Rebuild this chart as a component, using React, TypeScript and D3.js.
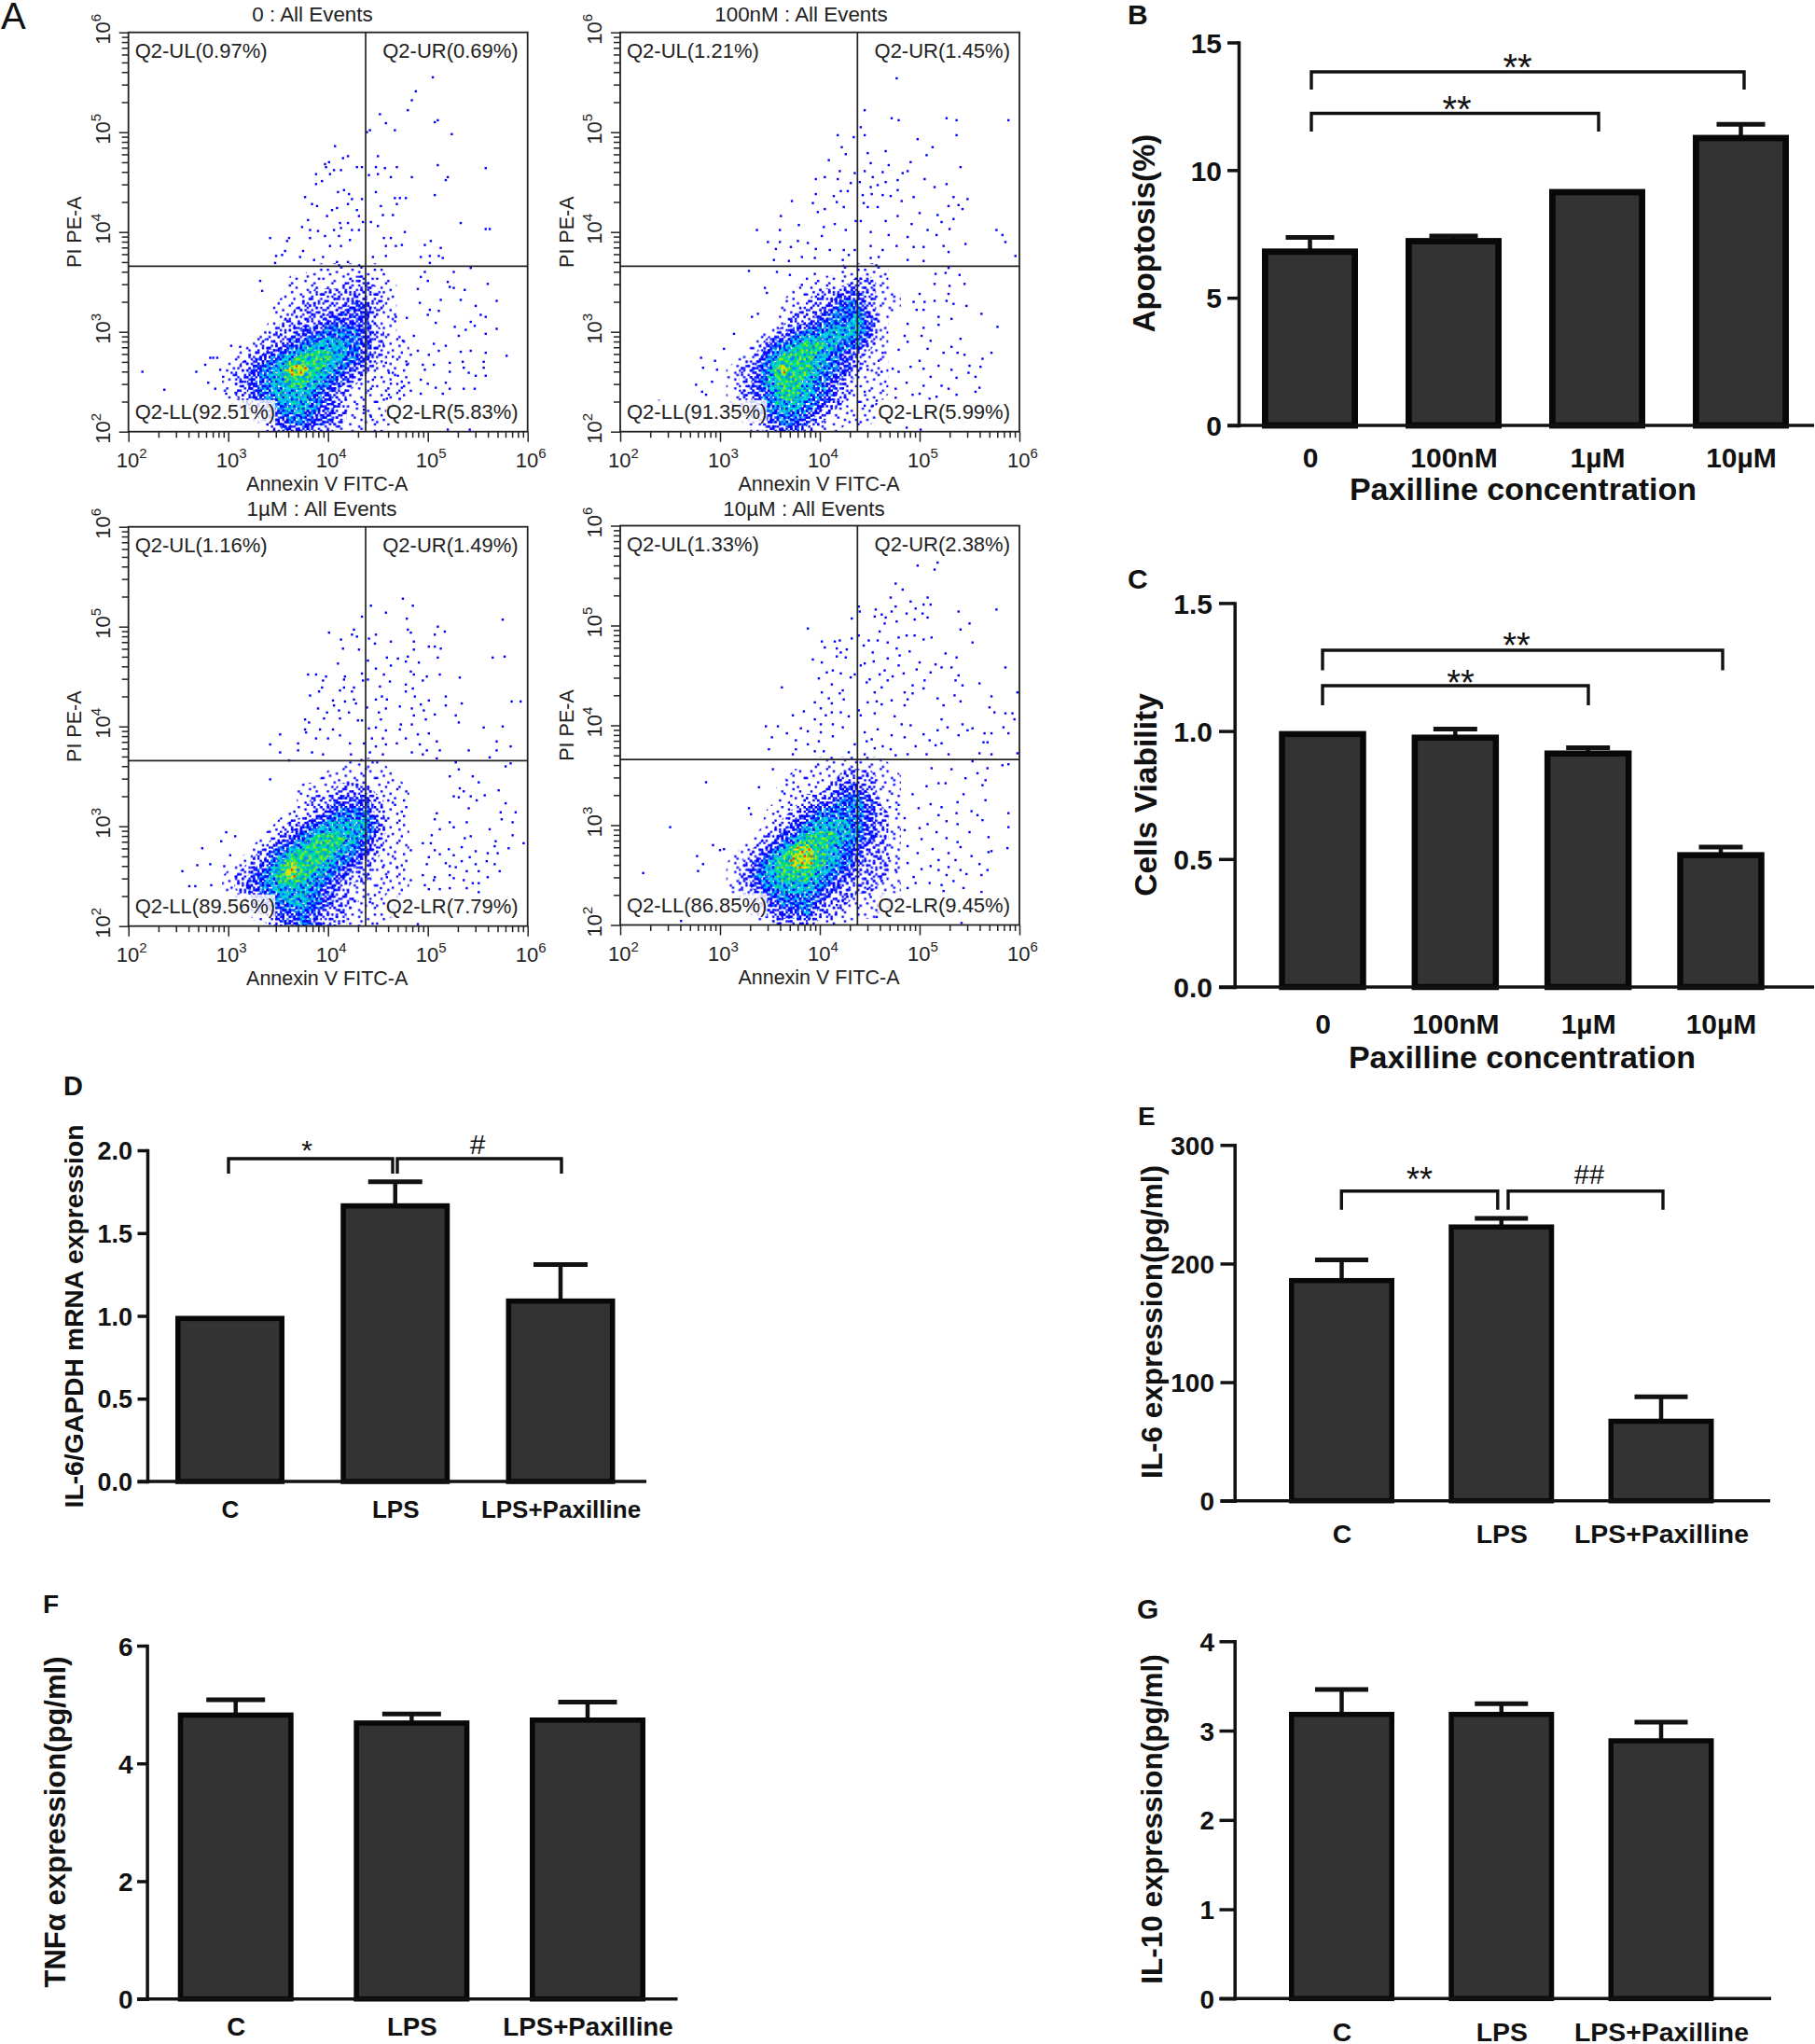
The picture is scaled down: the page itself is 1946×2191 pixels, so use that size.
import React, { useEffect, useRef } from "react";
import * as d3 from "d3";

// ---- bar chart values ----
const doseCategories = ["0", "100nM", "1µM", "10µM"];
const groupCategories = ["C", "LPS", "LPS+Paxilline"];

const apoptosisMeans = [6.93, 7.34, 9.26, 11.38];
const apoptosisTops = [7.36, 7.42, 9.26, 11.79];
const viabilityMeans = [1.0, 0.986, 0.924, 0.527];
const viabilityTops = [1.0, 1.008, 0.935, 0.547];
const il6MrnaMeans = [1.0, 1.68, 1.105];
const il6MrnaTops = [1.0, 1.81, 1.31];
const il6Means = [187.8, 233, 69.2];
const il6Tops = [203, 238, 87.6];
const tnfMeans = [4.865, 4.73, 4.78];
const tnfTops = [5.08, 4.84, 5.04];
const il10Means = [3.21, 3.21, 2.914];
const il10Tops = [3.46, 3.3, 3.095];

// ---- flow cytometry: quadrant labels ----
const quadrants0 = ["Q2-UL(0.97%)", "Q2-UR(0.69%)", "Q2-LL(92.51%)", "Q2-LR(5.83%)"];
const quadrants100nM = ["Q2-UL(1.21%)", "Q2-UR(1.45%)", "Q2-LL(91.35%)", "Q2-LR(5.99%)"];
const quadrants1uM = ["Q2-UL(1.16%)", "Q2-UR(1.49%)", "Q2-LL(89.56%)", "Q2-LR(7.79%)"];
const quadrants10uM = ["Q2-UL(1.33%)", "Q2-UR(2.38%)", "Q2-LL(86.85%)", "Q2-LR(9.45%)"];

// density of the main cell cloud, estimated by eye, 0 (none) to 7 (hottest).
// rows: log10(PI) 3.625 down to 2 in steps of 0.125, columns: log10(Annexin) 3 to 4.75
const density0 = [
  "000000011111100",
  "000001111122110",
  "000001122222210",
  "000011222233210",
  "000012223333110",
  "000122334443210",
  "001223455543211",
  "012345666543211",
  "123457765432111",
  "123456654321111",
  "123455543211111",
  "012345543211110",
  "001234433211110",
  "000123322111100",
];
const density100nM = [
  "000000000011110",
  "000000011112210",
  "000000112233211",
  "000001122344211",
  "000001223445310",
  "000012344555310",
  "000134566544210",
  "001246665432110",
  "012357665432110",
  "012356654321110",
  "012346654321110",
  "012345543211100",
  "001234432111100",
  "000123321100000",
];
const density1uM = [
  "000000000011100",
  "000000001111110",
  "000000111222111",
  "000000122333211",
  "000001123444211",
  "000012345555311",
  "000123466654211",
  "001245666543211",
  "012357665432111",
  "123467654322111",
  "123455543211111",
  "012345543221110",
  "001233432211110",
  "000023432211100",
];
const density10uM = [
  "000000001111110",
  "000000111122211",
  "000001111233211",
  "000001122344311",
  "000011234444321",
  "000012345554321",
  "000123466654321",
  "001235776543221",
  "012356776543221",
  "012456665432221",
  "012345554322211",
  "001234443221111",
  "000223342211110",
  "000012221110000",
];

// single events, [log10(Annexin V), log10(PI)]
const events0 = [
  [5.05,5.55],[4.88,5.41],[4.84,5.32],[4.52,5.18],[4.8,5.22],[4.58,5.09],[5.07,5.1],[5.1,5.12],[4.67,5.02],[4.42,5.02],
  [4.39,5.0],[5.24,4.98],[4.07,4.86],[4.5,4.76],[4.15,4.74],[4.2,4.76],[4.01,4.7],[3.97,4.68],[3.98,4.65],[4.29,4.65],
  [4.34,4.65],[4.48,4.65],[4.57,4.64],[4.69,4.65],[5.1,4.67],[5.58,4.64],[4.06,4.62],[4.13,4.62],[3.88,4.58],[4.02,4.58],
  [4.41,4.57],[4.5,4.58],[4.63,4.55],[4.84,4.55],[5.2,4.55],[5.18,4.52],[3.94,4.51],[3.88,4.48],[4.16,4.42],[4.1,4.4],
  [4.21,4.38],[4.48,4.4],[5.07,4.37],[3.77,4.35],[4.67,4.34],[4.72,4.34],[4.78,4.34],[4.24,4.33],[4.34,4.33],[3.84,4.28],
  [3.89,4.26],[4.2,4.28],[4.53,4.26],[4.69,4.28],[4.04,4.22],[4.29,4.22],[4.09,4.24],[4.55,4.17],[4.65,4.17],[3.99,4.16],
  [4.31,4.16],[3.8,4.12],[4.12,4.09],[4.2,4.09],[4.35,4.1],[4.43,4.1],[5.33,4.09],[4.5,4.06],[5.58,4.03],[5.62,4.03],
  [3.74,4.05],[4.13,4.04],[3.82,4.02],[3.9,4.01],[4.06,4.02],[4.24,4.02],[4.31,4.02],[4.77,4.0],[3.42,3.94],[3.61,3.94],
  [3.59,3.91],[3.82,3.94],[3.97,3.96],[4.11,3.96],[4.22,3.92],[4.56,3.94],[4.63,3.94],[5.03,3.91],[4.97,3.87],[4.74,3.87],
  [5.13,3.84],[3.57,3.81],[3.75,3.81],[4.02,3.86],[4.13,3.86],[4.58,3.86],[4.68,3.86],[3.54,3.77],[3.48,3.76],[3.72,3.75],
  [3.86,3.72],[3.95,3.75],[4.09,3.7],[4.2,3.7],[4.45,3.75],[4.58,3.76],[4.93,3.75],[5.02,3.76],[5.11,3.76],[5.15,3.74],
  [3.47,3.69],[5.02,3.69],[5.43,3.64],[5.26,3.6],[4.97,3.6],[4.93,3.55],[5.2,3.5],[5.6,3.48],[5.0,3.51],[3.32,3.51],
  [3.34,3.41],[5.22,3.45],[5.37,3.42],[5.26,3.44],[4.9,3.43],[5.13,3.32],[5.33,3.32],[5.69,3.31],[4.92,3.29],[5.48,3.26],
  [5.02,3.22],[5.11,3.21],[5.53,3.17],[5.58,3.15],[5.0,3.17],[4.68,3.15],[4.79,3.14],[5.43,3.1],[5.08,3.09],[5.27,3.05],
  [5.69,3.03],[5.38,3.02],[5.47,3.06],[5.58,2.98],[5.31,2.96],[4.86,2.96],[4.75,2.91],[5.06,2.88],[5.18,2.86],[4.9,2.81],
  [5.43,2.81],[5.33,2.8],[5.11,2.81],[5.58,2.79],[5.79,2.76],[5.01,2.77],[4.83,2.77],[4.65,2.75],[4.58,2.69],[5.56,2.7],
  [4.95,2.67],[5.35,2.7],[5.22,2.69],[5.06,2.67],[4.79,2.67],[4.97,2.62],[5.56,2.64],[5.36,2.64],[4.61,2.59],[5.22,2.6],
  [4.7,2.56],[5.41,2.59],[5.48,2.56],[5.58,2.56],[4.93,2.52],[4.81,2.49],[4.45,2.52],[4.63,2.48],[5.0,2.48],[5.18,2.49],
  [4.74,2.44],[5.08,2.44],[5.36,2.43],[5.22,2.43],[5.47,2.43],[4.43,2.43],[4.61,2.37],[4.83,2.41],[4.93,2.38],[5.15,2.38],
  [4.72,2.33],[4.59,2.33],[4.36,2.22],[4.43,2.15],[5.2,2.02],[5.42,2.02],[2.14,2.6],[2.36,2.42],[2.68,2.6],[2.77,2.67],
  [2.82,2.74],[2.85,2.74],[2.89,2.74],[2.8,2.49],[3.03,2.86],[3.12,2.85],[2.87,2.43],[2.95,2.55],[2.98,2.38],[2.92,2.62],
];
const events100nM = [
  [4.77,5.54],[4.45,5.22],[4.72,5.14],[4.79,5.12],[5.27,5.14],[5.37,5.12],[5.89,5.12],[4.41,5.05],[4.18,4.97],[4.34,4.95],
  [4.45,4.97],[4.98,4.93],[5.37,4.97],[4.22,4.85],[4.26,4.78],[5.13,4.85],[5.07,4.77],[4.48,4.79],[4.66,4.81],[4.09,4.72],
  [4.51,4.69],[4.69,4.67],[4.91,4.7],[5.41,4.65],[4.45,4.61],[4.2,4.61],[4.63,4.6],[4.83,4.59],[4.88,4.61],[4.35,4.59],
  [4.05,4.55],[3.96,4.53],[4.18,4.53],[4.31,4.49],[4.4,4.5],[4.53,4.55],[4.66,4.5],[4.78,4.52],[5.05,4.53],[5.27,4.48],
  [4.21,4.41],[4.28,4.41],[4.51,4.45],[4.58,4.47],[4.78,4.42],[5.15,4.45],[3.96,4.38],[4.14,4.36],[4.43,4.37],[4.52,4.38],
  [4.63,4.37],[4.71,4.36],[4.82,4.31],[4.94,4.35],[5.34,4.35],[5.48,4.33],[3.72,4.31],[3.93,4.29],[4.17,4.3],[4.44,4.29],
  [5.29,4.26],[5.39,4.27],[5.43,4.23],[4.24,4.25],[3.98,4.2],[4.05,4.23],[4.48,4.25],[4.58,4.25],[4.78,4.16],[5.0,4.19],
  [5.18,4.17],[3.61,4.16],[4.41,4.11],[4.66,4.11],[4.92,4.08],[5.22,4.1],[5.34,4.13],[3.37,4.02],[3.6,4.02],[3.79,4.07],
  [4.04,4.05],[4.15,4.08],[4.26,4.02],[4.36,4.11],[4.51,4.0],[5.08,4.02],[5.77,4.02],[5.83,3.97],[5.3,4.03],[5.17,3.97],
  [4.02,3.96],[3.48,3.9],[3.6,3.9],[3.78,3.91],[3.88,3.89],[4.88,3.95],[4.69,3.97],[5.24,3.86],[5.46,3.88],[5.86,3.9],
  [3.56,3.83],[3.71,3.85],[3.96,3.83],[4.1,3.82],[4.24,3.82],[4.35,3.82],[4.51,3.86],[4.63,3.82],[4.77,3.86],[4.94,3.85],
  [5.04,3.85],[5.29,3.8],[3.54,3.72],[3.69,3.71],[3.82,3.75],[3.95,3.74],[4.23,3.72],[4.29,3.77],[4.51,3.74],[4.59,3.75],
  [4.88,3.72],[5.04,3.71],[5.96,3.76],[5.29,3.64],[5.4,3.57],[5.16,3.58],[5.26,3.59],[5.45,3.48],[5.3,3.46],[5.15,3.48],
  [5.0,3.38],[5.29,3.38],[5.05,3.3],[5.15,3.31],[4.94,3.3],[5.27,3.31],[4.97,3.22],[5.47,3.26],[5.34,3.28],[5.04,3.22],
  [5.19,3.15],[5.62,3.18],[5.32,3.13],[5.78,3.05],[4.88,3.08],[5.04,3.04],[5.19,3.07],[4.85,2.96],[4.88,2.9],[5.11,2.91],
  [5.02,2.96],[5.41,2.93],[5.32,2.85],[5.08,2.83],[5.38,2.79],[5.24,2.79],[5.72,2.79],[5.45,2.77],[4.63,2.79],[4.79,2.82],
  [5.63,2.73],[4.59,2.71],[5.0,2.71],[5.19,2.66],[5.5,2.66],[4.73,2.63],[4.91,2.65],[5.04,2.63],[5.32,2.62],[5.61,2.65],
  [4.48,2.62],[4.62,2.6],[4.79,2.6],[5.11,2.55],[5.37,2.54],[5.56,2.55],[5.49,2.59],[4.87,2.49],[5.04,2.46],[4.76,2.43],
  [5.22,2.46],[5.29,2.43],[5.6,2.44],[4.45,2.4],[4.93,2.37],[5.0,2.38],[5.17,2.35],[5.37,2.37],[5.56,2.4],[4.76,2.34],
  [5.1,2.33],[4.57,2.31],[4.45,2.26],[4.53,2.26],[4.87,2.04],[5.01,2.02],[2.81,2.74],[2.83,2.64],[2.76,2.47],[2.95,2.71],
  [3.04,2.83],[3.14,2.98],[2.86,2.37],[2.39,2.31],[2.82,2.4],[3.29,3.61],[3.45,3.44],[3.57,3.6],[3.47,3.39],[3.32,3.15],
  [3.38,3.18],[3.7,3.57],[3.82,3.47],[3.95,3.58],[2.97,2.62],[2.92,2.5],
];
const events1uM = [
  [4.75,5.28],[4.85,5.21],[4.43,5.21],[4.58,5.14],[4.34,5.1],[4.79,5.08],[5.75,5.07],[5.1,5.0],[4.8,4.97],[4.83,4.94],
  [5.17,4.95],[4.01,4.94],[4.26,4.97],[4.24,4.92],[4.29,4.9],[4.48,4.92],[5.07,4.92],[4.13,4.87],[4.41,4.88],[4.47,4.83],
  [4.63,4.85],[4.86,4.85],[5.01,4.8],[5.07,4.8],[5.13,4.78],[4.15,4.78],[4.31,4.77],[4.86,4.77],[4.59,4.69],[4.7,4.68],
  [4.8,4.7],[5.1,4.69],[5.65,4.69],[5.77,4.7],[4.4,4.66],[4.78,4.65],[4.91,4.64],[4.1,4.63],[4.63,4.61],[4.48,4.58],
  [4.83,4.55],[3.8,4.52],[3.88,4.52],[4.34,4.53],[4.56,4.52],[4.86,4.52],[4.99,4.5],[5.12,4.52],[3.98,4.5],[4.17,4.5],
  [5.32,4.49],[4.4,4.47],[3.95,4.46],[4.16,4.47],[4.35,4.46],[4.62,4.45],[4.95,4.46],[4.78,4.42],[4.52,4.4],[4.16,4.39],
  [4.26,4.39],[3.94,4.39],[4.12,4.36],[4.24,4.35],[3.91,4.35],[4.78,4.35],[4.85,4.38],[3.82,4.31],[4.54,4.3],[4.87,4.3],
  [5.18,4.3],[4.05,4.26],[4.17,4.25],[4.26,4.27],[4.48,4.27],[4.59,4.27],[5.01,4.26],[5.84,4.25],[5.93,4.25],[5.34,4.23],
  [5.18,4.21],[4.06,4.21],[4.28,4.23],[4.39,4.19],[4.58,4.18],[4.72,4.2],[4.84,4.18],[4.93,4.22],[3.9,4.18],[4.11,4.16],
  [3.99,4.14],[4.21,4.14],[4.96,4.16],[4.51,4.14],[5.07,4.12],[3.96,4.08],[4.12,4.08],[4.3,4.06],[4.53,4.07],[4.86,4.11],
  [5.28,4.11],[3.77,4.07],[3.81,4.04],[5.31,4.04],[4.34,4.06],[4.98,4.07],[4.73,4.02],[4.84,4.02],[5.56,3.99],[5.75,4.0],
  [4.41,3.98],[4.48,3.99],[3.77,3.97],[3.92,3.97],[4.05,3.97],[4.58,3.96],[4.72,3.97],[4.9,3.92],[5.01,3.93],[3.52,3.92],
  [3.78,3.94],[4.12,3.91],[3.88,3.88],[4.0,3.88],[4.44,3.88],[4.55,3.88],[4.69,3.83],[4.78,3.88],[5.09,3.85],[5.69,3.85],
  [3.42,3.82],[3.7,3.83],[4.22,3.83],[4.36,3.83],[4.48,3.8],[4.58,3.82],[4.92,3.82],[5.83,3.8],[3.7,3.76],[4.99,3.76],
  [5.12,3.76],[5.41,3.76],[5.69,3.76],[3.52,3.74],[3.84,3.74],[3.95,3.72],[4.23,3.72],[4.42,3.74],[4.55,3.72],[4.84,3.74],
  [4.95,3.72],[5.62,3.69],[3.61,3.66],[5.09,3.68],[5.83,3.63],[5.78,3.6],[5.28,3.64],[5.31,3.57],[5.22,3.5],[5.45,3.5],
  [3.42,3.47],[5.51,3.44],[5.32,3.38],[5.71,3.36],[5.36,3.35],[5.57,3.31],[5.26,3.3],[5.31,3.29],[5.43,3.3],[5.49,3.26],
  [5.78,3.23],[5.41,3.18],[5.73,3.14],[5.88,3.14],[5.09,3.13],[5.74,3.07],[5.07,3.07],[5.85,3.04],[5.39,3.04],[5.22,3.04],
  [5.62,2.97],[5.26,2.99],[5.12,2.97],[5.85,2.91],[5.43,2.9],[5.04,2.91],[5.96,2.83],[5.68,2.85],[5.37,2.88],[4.95,2.83],
  [5.03,2.83],[5.67,2.8],[5.34,2.79],[5.81,2.78],[5.21,2.77],[4.83,2.76],[5.48,2.75],[5.07,2.76],[5.6,2.73],[5.26,2.71],
  [5.7,2.73],[5.42,2.69],[5.12,2.72],[5.59,2.65],[5.01,2.69],[5.34,2.65],[5.18,2.63],[5.48,2.62],[5.67,2.62],[4.99,2.62],
  [5.28,2.59],[5.22,2.6],[4.69,2.59],[4.55,2.59],[5.72,2.55],[5.51,2.55],[5.39,2.55],[4.95,2.51],[5.22,2.51],[4.59,2.49],
  [5.07,2.49],[5.6,2.49],[5.36,2.46],[5.26,2.48],[4.83,2.46],[5.06,2.46],[5.45,2.43],[5.51,2.43],[4.97,2.41],[5.12,2.37],
  [5.01,2.37],[5.22,2.38],[5.39,2.38],[5.51,2.34],[4.53,2.38],[4.47,2.31],[4.42,2.24],[4.9,2.02],[2.54,2.55],[2.69,2.61],
  [2.74,2.78],[2.61,2.4],[2.67,2.4],[2.82,2.62],[2.93,2.85],[2.98,2.94],[3.07,2.9],[2.83,2.41],[2.96,2.6],[3.02,2.71],
];
const events10uM = [
  [4.98,5.6],[5.18,5.63],[5.15,5.56],[4.76,5.42],[4.83,5.36],[4.71,5.28],[5.08,5.28],[4.91,5.24],[5.11,5.21],[5.04,5.21],
  [4.76,5.19],[4.39,5.19],[4.96,5.17],[4.4,5.14],[4.56,5.16],[4.72,5.14],[5.39,5.14],[5.77,5.16],[4.87,5.12],[5.03,5.12],
  [4.55,5.09],[4.62,5.11],[4.66,5.08],[5.08,5.08],[4.32,5.07],[4.95,5.06],[4.77,5.04],[4.65,5.02],[5.5,5.02],[3.88,4.97],
  [5.41,4.96],[4.6,4.94],[4.39,4.9],[4.87,4.9],[4.95,4.9],[4.79,4.88],[5.12,4.88],[5.04,4.86],[4.32,4.87],[4.2,4.85],
  [4.15,4.84],[4.02,4.84],[4.49,4.85],[4.58,4.85],[4.68,4.83],[5.53,4.83],[4.44,4.8],[4.05,4.78],[4.17,4.77],[4.77,4.77],
  [4.27,4.76],[4.9,4.74],[4.21,4.73],[4.53,4.73],[5.26,4.72],[4.8,4.7],[5.37,4.68],[4.17,4.69],[4.68,4.67],[3.93,4.66],
  [4.26,4.68],[4.54,4.64],[4.45,4.62],[5.0,4.63],[4.02,4.63],[4.79,4.6],[5.16,4.61],[5.86,4.58],[5.22,4.58],[5.32,4.58],
  [4.41,4.6],[4.65,4.55],[4.97,4.56],[4.13,4.55],[4.07,4.53],[4.84,4.52],[4.21,4.52],[4.35,4.51],[5.11,4.53],[4.73,4.49],
  [4.6,4.51],[4.31,4.48],[3.99,4.47],[4.5,4.46],[5.39,4.5],[5.05,4.45],[4.68,4.45],[5.36,4.45],[5.6,4.42],[4.12,4.41],
  [5.43,4.4],[4.47,4.43],[3.62,4.38],[4.93,4.4],[4.62,4.38],[5.04,4.37],[4.23,4.35],[5.35,4.3],[4.02,4.33],[4.2,4.32],
  [4.55,4.33],[4.85,4.33],[4.93,4.32],[5.72,4.29],[5.98,4.33],[4.09,4.27],[4.24,4.26],[4.72,4.25],[5.18,4.27],[5.41,4.24],
  [4.88,4.26],[4.48,4.23],[4.57,4.24],[4.12,4.22],[4.62,4.21],[3.95,4.23],[5.24,4.2],[5.7,4.18],[4.01,4.17],[4.85,4.2],
  [4.39,4.15],[3.84,4.14],[4.12,4.13],[4.21,4.13],[5.75,4.13],[4.41,4.1],[4.55,4.12],[5.86,4.12],[5.93,4.12],[3.73,4.1],
  [4.06,4.1],[4.29,4.09],[4.75,4.09],[5.22,4.06],[5.95,4.06],[3.95,4.06],[4.01,4.01],[4.23,3.98],[4.82,4.01],[4.91,4.0],
  [5.28,3.98],[5.43,4.01],[5.84,3.98],[3.46,3.99],[3.58,3.99],[3.81,3.97],[4.13,4.01],[4.58,3.96],[5.53,3.97],[5.48,3.95],
  [5.18,3.95],[3.67,3.92],[3.88,3.94],[4.01,3.93],[4.45,3.93],[5.65,3.92],[5.72,3.92],[5.89,3.92],[5.39,3.9],[5.04,3.91],
  [4.72,3.9],[3.52,3.88],[4.13,3.89],[4.85,3.88],[3.76,3.85],[4.52,3.86],[3.99,3.84],[4.47,3.84],[5.1,3.85],[5.22,3.82],
  [5.64,3.83],[5.68,3.83],[3.88,3.81],[4.35,3.81],[4.63,3.79],[4.96,3.79],[5.16,3.8],[3.49,3.76],[3.76,3.76],[4.55,3.77],
  [4.71,3.76],[3.95,3.74],[4.04,3.74],[4.88,3.71],[5.07,3.71],[5.29,3.71],[5.6,3.72],[5.72,3.71],[5.98,3.72],[3.73,3.71],
  [4.29,3.73],[4.45,3.71],[4.76,3.7],[5.53,3.64],[5.83,3.6],[5.89,3.61],[5.68,3.57],[5.32,3.56],[5.12,3.57],[5.58,3.52],
  [5.46,3.47],[5.66,3.45],[5.26,3.42],[5.19,3.42],[5.07,3.39],[5.63,3.4],[5.44,3.31],[4.93,3.31],[5.66,3.25],[5.38,3.23],
  [5.22,3.18],[5.52,3.14],[5.11,3.21],[5.37,3.12],[5.89,3.12],[4.99,3.17],[5.58,3.1],[5.19,3.1],[4.85,3.07],[5.27,3.04],
  [5.38,3.01],[5.63,3.05],[5.08,3.01],[5.89,2.98],[5.0,2.97],[5.5,2.93],[4.85,2.95],[5.17,2.93],[5.69,2.88],[5.27,2.87],
  [5.02,2.86],[5.38,2.83],[5.88,2.77],[5.72,2.74],[4.88,2.79],[5.13,2.76],[5.41,2.78],[5.69,2.73],[5.29,2.72],[4.98,2.72],
  [5.52,2.69],[4.69,2.67],[5.19,2.65],[5.36,2.65],[4.88,2.62],[5.6,2.61],[5.11,2.59],[5.29,2.58],[5.41,2.55],[5.68,2.55],
  [5.19,2.55],[5.02,2.56],[4.76,2.55],[5.47,2.51],[5.27,2.5],[4.94,2.48],[5.62,2.5],[4.62,2.44],[5.1,2.42],[5.22,2.4],
  [5.34,2.44],[4.88,2.37],[4.96,2.42],[5.44,2.37],[5.24,2.34],[5.62,2.33],[4.48,2.36],[4.51,2.28],[4.27,2.31],[4.17,2.2],
  [4.23,2.25],[4.21,2.17],[4.57,2.08],[5.42,2.02],[2.5,2.98],[2.23,2.52],[2.77,2.69],[2.83,2.61],[2.78,2.54],[2.86,3.43],
  [2.93,2.8],[3.0,2.75],[3.04,2.76],[2.61,2.04],[3.39,3.38],[3.29,3.17],[3.31,3.11],[3.53,3.56],
];

const FONT = '"Liberation Sans", Arial, sans-serif';
const INK = "#111";

// fill texture for the density levels (one digit per 2.4px cell), a style, not data
const speckTile = [
  "730915284617402958361740", "258463097152846301975286", "914027385960213748560193",
  "476831529047685120394867", "035296714382097463158204", "682140957636518209746351",
  "197503826401974685230978", "543768192058326914707412", "820491637275049381652096",
  "369257084916783250491837", "714086325403192768035264", "056932771548260419783150",
  "892415603978351064829673", "347680219160427593016482", "601953478352918047675329",
  "275806134709635281940716", "938142765024786319052847", "460379512896104752367091",
  "129654083731590428618365", "785026491462873960254103", "043718920517346285901786",
  "596240378689051734162450", "318975106243968501724938", "672483950186427390815627",
];
const B = "#0000ff", A = "#0070ff", C = "#00b0ff", T = "#00dfd8", G = "#00e060", L = "#a0f000", Y = "#ffe000", R = "#ff2000";
const levelColors: (string | null)[][] = [
  [B, null, null, null, null, null, null, null, null, null],
  [B, B, B, null, null, null, null, null, null, null],
  [B, B, B, B, B, A, null, null, null, null],
  [B, B, B, A, A, C, C, T, null, null],
  [B, A, C, C, T, T, T, T, G, null],
  [C, T, T, G, G, G, G, L, L, A],
  [T, G, L, L, Y, Y, Y, Y, R, G],
];
const CELL = 2.4;
const DENSITY_STEP = 0.125;

const flowPanels = [
  { title: "0 : All Events", left: 137.7, top: 34.7, titleX: 335, titleY: 23, quadrants: quadrants0, density: density0, events: events0 },
  { title: "100nM : All Events", left: 665, top: 34.7, titleX: 859, titleY: 23, quadrants: quadrants100nM, density: density100nM, events: events100nM },
  { title: "1µM : All Events", left: 137.7, top: 564.7, titleX: 345, titleY: 553, quadrants: quadrants1uM, density: density1uM, events: events1uM },
  { title: "10µM : All Events", left: 665, top: 563.5, titleX: 862, titleY: 553, quadrants: quadrants10uM, density: density10uM, events: events10uM },
];

const f1 = d3.format(".1f");
const f0 = d3.format("d");

const barPanels = [
  {
    means: apoptosisMeans, tops: apoptosisTops, categories: doseCategories, yMax: 15, yTicks: [0, 5, 10, 15], fmt: f0,
    axisX: 1328, yTop: 45.5, yZero: 456, tickLeft: 1316, xEnd: 1945, first: 1404.5, last: 1866.5,
    barW: 103, capW: 52, sw: 6.8, tickFont: 30, tickRight: 1310, catFont: 30, catY: 501,
    yLabel: "Apoptosis(%)", yLabelX: 1238, yLabelY: 250, yLabelFont: 33,
    xLabel: "Paxilline concentration", xLabelX: 1633, xLabelY: 536,
    brackets: [[1406, 1870, 77, 96], [1406, 1714, 121.5, 141]],
    signs: [["**", 1627, 66, 40], ["**", 1562, 111, 40]],
  },
  {
    means: viabilityMeans, tops: viabilityTops, categories: doseCategories, yMax: 1.5, yTicks: [0, 0.5, 1, 1.5], fmt: f1,
    axisX: 1323.7, yTop: 646.4, yZero: 1058, tickLeft: 1307, xEnd: 1945, first: 1418, last: 1845,
    barW: 93.5, capW: 47, sw: 6.5, tickFont: 30, tickRight: 1300, catFont: 30, catY: 1108,
    yLabel: "Cells Viability", yLabelX: 1240.4, yLabelY: 852, yLabelFont: 33.6,
    xLabel: "Paxilline concentration", xLabelX: 1632, xLabelY: 1144.6,
    brackets: [[1418, 1847, 697, 718.6], [1418, 1703, 735, 756]],
    signs: [["**", 1626, 686, 38], ["**", 1566, 726, 38]],
  },
  {
    means: il6MrnaMeans, tops: il6MrnaTops, categories: groupCategories, yMax: 2, yTicks: [0, 0.5, 1, 1.5, 2], fmt: f1,
    axisX: 158, yTop: 1233, yZero: 1588, tickLeft: 147.5, xEnd: 693, first: 246.5, last: 601,
    barW: 117, capW: 58, sw: 5.6, tickFont: 27, tickRight: 142, catFont: 26, catY: 1627,
    yLabel: "IL-6/GAPDH mRNA expression", yLabelX: 88.6, yLabelY: 1411, yLabelFont: 28.3,
    brackets: [[245, 421, 1242, 1258], [426, 602, 1242, 1258]],
    signs: [["*", 329, 1228, 30], ["#", 512, 1226, 30]],
  },
  {
    means: il6Means, tops: il6Tops, categories: groupCategories, yMax: 300, yTicks: [0, 100, 200, 300], fmt: f0,
    axisX: 1323.7, yTop: 1227.3, yZero: 1608.7, tickLeft: 1308.5, xEnd: 1898, first: 1438.5, last: 1781,
    barW: 113, capW: 57, sw: 5.5, tickFont: 28, tickRight: 1302, catFont: 28.4, catY: 1654,
    yLabel: "IL-6 expression(pg/ml)", yLabelX: 1246, yLabelY: 1417, yLabelFont: 31.5,
    brackets: [[1438.3, 1605.8, 1276.7, 1296.7], [1617, 1783, 1276.7, 1296.7]],
    signs: [["**", 1522, 1259, 36], ["##", 1704, 1259, 29]],
  },
  {
    means: tnfMeans, tops: tnfTops, categories: groupCategories, yMax: 6, yTicks: [0, 2, 4, 6], fmt: f0,
    axisX: 157.6, yTop: 1764, yZero: 2142.7, tickLeft: 147, xEnd: 726.5, first: 252.7, last: 630,
    barW: 124, capW: 63, sw: 5.6, tickFont: 28, tickRight: 142.5, catFont: 27.7, catY: 2181.7,
    yLabel: "TNFα expression(pg/ml)", yLabelX: 70.4, yLabelY: 1953, yLabelFont: 31,
    brackets: [], signs: [],
  },
  {
    means: il10Means, tops: il10Tops, categories: groupCategories, yMax: 4, yTicks: [0, 1, 2, 3, 4], fmt: f0,
    axisX: 1323.7, yTop: 1759.3, yZero: 2142.3, tickLeft: 1307.5, xEnd: 1899, first: 1438.5, last: 1781,
    barW: 113, capW: 57, sw: 5.5, tickFont: 28, tickRight: 1302, catFont: 28.4, catY: 2187.7,
    yLabel: "IL-10 expression(pg/ml)", yLabelX: 1246, yLabelY: 1950, yLabelFont: 31.5,
    brackets: [], signs: [],
  },
];

const panelLetters = [
  ["A", 1, 31, 40, "normal"], ["B", 1209, 26, 30, "bold"], ["C", 1209, 631, 30, "bold"], ["D", 68, 1174, 29, "bold"],
  ["E", 1220, 1206, 28, "bold"], ["F", 46, 1729, 28, "bold"], ["G", 1219, 1735, 30, "bold"],
];

function drawFlow(svg: any, p: any, index: number) {
  const size = 428;
  const x = d3.scaleLog().domain([100, 1e6]).range([p.left, p.left + size]);
  const y = d3.scaleLog().domain([100, 1e6]).range([p.top + size, p.top]);
  const gateX = x(10 ** 4.377);
  const gateY = y(10 ** 3.657);
  const clipId = `plot-clip-${index}`;
  svg.append("clipPath").attr("id", clipId).append("rect")
    .attr("x", p.left).attr("y", p.top).attr("width", size).attr("height", size);
  const plot = svg.append("g").attr("clip-path", `url(#${clipId})`);

  // main cloud: contours of the density estimate, filled with the specked levels
  const rows = p.density.length;
  const cols = p.density[0].length;
  const values = p.density.flatMap((r: string) => [...r].map(Number));
  const contours = d3.contours().size([cols, rows]).thresholds(d3.range(0.5, 7, 1))(values);
  const projection = d3.geoTransform({
    point(gx: number, gy: number) {
      (this as any).stream.point(
        x(10 ** (3 + (gx - 0.5) * DENSITY_STEP)),
        y(10 ** (3.625 - (gy - 0.5) * DENSITY_STEP))
      );
    },
  });
  const path = d3.geoPath(projection);
  plot.selectAll("path.level").data(contours).join("path")
    .attr("class", "level")
    .attr("d", (c: any) => path(c))
    .attr("fill", (_: any, i: number) => `url(#speck-${i})`);

  plot.selectAll("rect.event").data(p.events).join("rect")
    .attr("class", "event")
    .attr("x", (d: number[]) => x(10 ** d[0]) - 1.2)
    .attr("y", (d: number[]) => y(10 ** d[1]) - 1.2)
    .attr("width", 2.4).attr("height", 2.4)
    .attr("fill", B);

  // quadrant labels, with the half see-through box the software draws behind them
  const labelSpots = [
    [p.left + 7, p.top + 27, "start"], [p.left + size - 10, p.top + 27, "end"],
    [p.left + 7, p.top + size - 14, "start"], [p.left + size - 10, p.top + size - 14, "end"],
  ];
  p.quadrants.forEach((label: string, i: number) => {
    const [lx, ly, anchor] = labelSpots[i];
    const bg = svg.append("rect").attr("fill", "#fff").attr("fill-opacity", 0.82);
    const t = svg.append("text").attr("x", lx).attr("y", ly).attr("text-anchor", anchor)
      .attr("font-family", FONT).attr("font-size", 22).attr("fill", "#222").text(label);
    const box = t.node().getBBox();
    bg.attr("x", box.x).attr("y", box.y).attr("width", box.width).attr("height", box.height);
  });

  // gates and frame
  svg.append("line").attr("x1", gateX).attr("x2", gateX).attr("y1", p.top).attr("y2", p.top + size).attr("stroke", "#222").attr("stroke-width", 1.7);
  svg.append("line").attr("x1", p.left).attr("x2", p.left + size).attr("y1", gateY).attr("y2", gateY).attr("stroke", "#222").attr("stroke-width", 1.7);
  svg.append("rect").attr("x", p.left).attr("y", p.top).attr("width", size).attr("height", size)
    .attr("fill", "none").attr("stroke", "#222").attr("stroke-width", 1.8);

  // log axes
  const isDecade = (v: number) => Math.abs(Math.log10(v) - Math.round(Math.log10(v))) < 1e-6;
  const bottom = svg.append("g").attr("transform", `translate(0,${p.top + size})`)
    .call(d3.axisBottom(x).tickFormat(() => "").tickSizeOuter(0));
  bottom.select(".domain").remove();
  bottom.selectAll(".tick line").attr("y2", (v: number) => (isDecade(v) ? 11 : 6.5)).attr("stroke", "#222").attr("stroke-width", 1.5);
  const left = svg.append("g").attr("transform", `translate(${p.left},0)`)
    .call(d3.axisLeft(y).tickFormat(() => "").tickSizeOuter(0));
  left.select(".domain").remove();
  left.selectAll(".tick line").attr("x2", (v: number) => (isDecade(v) ? -10 : -7)).attr("stroke", "#222").attr("stroke-width", 1.5);

  [2, 3, 4, 5, 6].forEach((e) => {
    const tx = svg.append("text").attr("x", x(10 ** e) - 13).attr("y", p.top + size + 38.5)
      .attr("font-family", FONT).attr("font-size", 22).attr("fill", "#222");
    tx.append("tspan").text("10");
    tx.append("tspan").attr("font-size", 15).attr("dy", -10).text(e);
    const ty = svg.append("text")
      .attr("transform", `translate(${p.left - 20},${y(10 ** e) + 13}) rotate(-90)`)
      .attr("font-family", FONT).attr("font-size", 22).attr("fill", "#222");
    ty.append("tspan").text("10");
    ty.append("tspan").attr("font-size", 15).attr("dy", -10).text(e);
  });

  svg.append("text").attr("x", p.titleX).attr("y", p.titleY).attr("text-anchor", "middle")
    .attr("font-family", FONT).attr("font-size", 22.4).attr("fill", "#222").text(p.title);
  svg.append("text").attr("x", p.left + size / 2 - 1).attr("y", p.top + size + 63).attr("text-anchor", "middle")
    .attr("font-family", FONT).attr("font-size", 21.5).attr("fill", "#222").text("Annexin V FITC-A");
  svg.append("text").attr("transform", `translate(${p.left - 50.5},${p.top + size / 2}) rotate(-90)`).attr("text-anchor", "middle")
    .attr("font-family", FONT).attr("font-size", 21.5).attr("fill", "#222").text("PI PE-A");
}

function drawBars(svg: any, p: any) {
  const y = d3.scaleLinear().domain([0, p.yMax]).range([p.yZero, p.yTop]);
  const x = d3.scalePoint().domain(p.categories).range([p.first, p.last]);
  const axisW = 3.5;

  const rows = p.categories.map((c: string, i: number) => ({ c, mean: p.means[i], top: p.tops[i] }));

  // error bars first, the stem starts inside the bar
  const errs = rows.filter((d: any) => d.top > d.mean);
  svg.selectAll(null).data(errs).join("line")
    .attr("x1", (d: any) => x(d.c)).attr("x2", (d: any) => x(d.c))
    .attr("y1", (d: any) => y(d.top)).attr("y2", (d: any) => y(d.mean) + 2)
    .attr("stroke", INK).attr("stroke-width", 4.5);
  svg.selectAll(null).data(errs).join("line")
    .attr("x1", (d: any) => x(d.c)! - p.capW / 2).attr("x2", (d: any) => x(d.c)! + p.capW / 2)
    .attr("y1", (d: any) => y(d.top)).attr("y2", (d: any) => y(d.top))
    .attr("stroke", INK).attr("stroke-width", 5);

  svg.selectAll(null).data(rows).join("rect")
    .attr("x", (d: any) => x(d.c)! - p.barW / 2 + p.sw / 2)
    .attr("y", (d: any) => y(d.mean) + p.sw / 2)
    .attr("width", p.barW - p.sw)
    .attr("height", (d: any) => y(0) - y(d.mean) - p.sw / 2)
    .attr("fill", "#333").attr("stroke", "#080808").attr("stroke-width", p.sw);

  // axes
  const yAxis = svg.append("g").attr("transform", `translate(${p.axisX},0)`)
    .call(d3.axisLeft(y).tickValues(p.yTicks).tickFormat(p.fmt).tickSize(p.axisX - p.tickLeft).tickSizeOuter(0));
  yAxis.select(".domain").attr("stroke", INK).attr("stroke-width", axisW).attr("stroke-linecap", "square");
  yAxis.selectAll(".tick line").attr("stroke", INK).attr("stroke-width", axisW);
  yAxis.selectAll(".tick text").attr("x", p.tickRight - p.axisX).attr("dy", "0.36em")
    .attr("font-family", FONT).attr("font-weight", "bold").attr("font-size", p.tickFont).attr("fill", INK);

  svg.append("line").attr("x1", p.tickLeft).attr("x2", p.xEnd).attr("y1", y(0)).attr("y2", y(0))
    .attr("stroke", INK).attr("stroke-width", axisW);

  const xAxis = svg.append("g").attr("transform", `translate(0,${p.yZero})`)
    .call(d3.axisBottom(x).tickSize(0));
  xAxis.select(".domain").remove();
  xAxis.selectAll(".tick text").attr("y", p.catY - p.yZero).attr("dy", 0)
    .attr("font-family", FONT).attr("font-weight", "bold").attr("font-size", p.catFont).attr("fill", INK);

  svg.append("text").attr("transform", `translate(${p.yLabelX},${p.yLabelY}) rotate(-90)`).attr("text-anchor", "middle")
    .attr("font-family", FONT).attr("font-weight", "bold").attr("font-size", p.yLabelFont).attr("fill", INK).text(p.yLabel);
  if (p.xLabel) {
    svg.append("text").attr("x", p.xLabelX).attr("y", p.xLabelY).attr("text-anchor", "middle")
      .attr("font-family", FONT).attr("font-weight", "bold").attr("font-size", 34).attr("fill", INK).text(p.xLabel);
  }

  // significance brackets
  p.brackets.forEach(([x1, x2, top, drop]: number[]) => {
    svg.append("path").attr("d", `M${x1},${drop}V${top}H${x2}V${drop}`)
      .attr("fill", "none").attr("stroke", INK).attr("stroke-width", 3.4);
  });
  p.signs.forEach(([s, sx, cy, fs]: any[]) => {
    const baseline = s[0] === "*" ? cy + 0.5 * fs : cy + 0.36 * fs;
    svg.append("text").attr("x", sx).attr("y", baseline).attr("text-anchor", "middle")
      .attr("font-family", FONT).attr("font-size", fs).attr("fill", INK).text(s);
  });
}

const App = () => {
  const ref = useRef<SVGSVGElement>(null);

  useEffect(() => {
    document.body.style.margin = "0";
    const svg = d3.select(ref.current);
    svg.selectAll("*").remove();

    const defs = svg.append("defs");
    levelColors.forEach((colors, level) => {
      const pattern = defs.append("pattern").attr("id", `speck-${level}`)
        .attr("patternUnits", "userSpaceOnUse")
        .attr("width", CELL * speckTile[0].length).attr("height", CELL * speckTile.length);
      speckTile.forEach((row, r) => {
        [...row].forEach((digit, c) => {
          const color = colors[+digit];
          if (color) {
            pattern.append("rect").attr("x", c * CELL).attr("y", r * CELL)
              .attr("width", CELL).attr("height", CELL).attr("fill", color);
          }
        });
      });
    });

    flowPanels.forEach((p, i) => drawFlow(svg, p, i));
    barPanels.forEach((p) => drawBars(svg, p));

    panelLetters.forEach(([t, x, y, fs, weight]) => {
      svg.append("text").attr("x", x).attr("y", y).attr("font-family", FONT)
        .attr("font-size", fs).attr("font-weight", weight).attr("fill", INK).text(t as string);
    });
  }, []);

  return <svg ref={ref} width={1946} height={2191} style={{ display: "block", background: "#fff" }} />;
};

export default App;
